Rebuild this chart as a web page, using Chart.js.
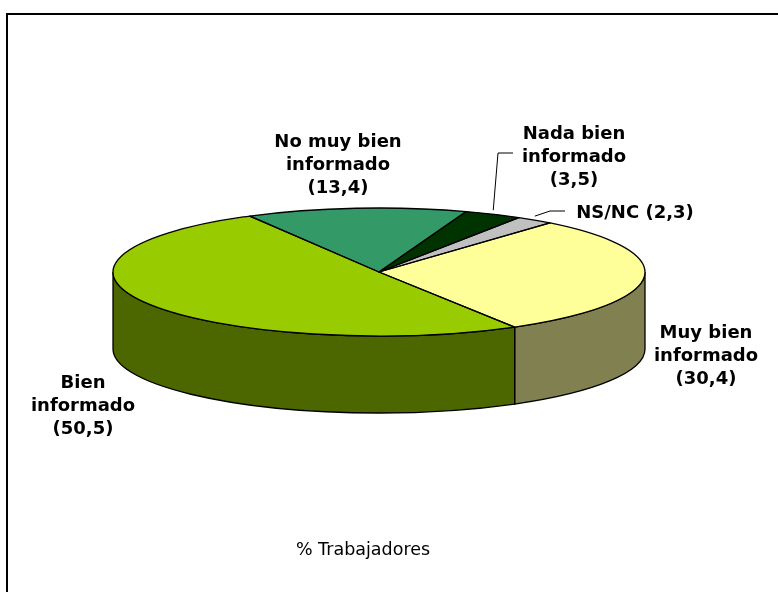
<!DOCTYPE html>
<html>
<head>
<meta charset="utf-8">
<script src="https://cdn.jsdelivr.net/npm/chart.js@4"></script>
<style>
  html, body { margin: 0; padding: 0; background: #fff; overflow: hidden; }
  #wrap { position: relative; width: 778px; height: 592px; }
  #frame { position: absolute; left: 6px; top: 13px; width: 800px; height: 620px; border: 2px solid #000; box-sizing: border-box; }
  #c { position: absolute; left: 0; top: 0; }
</style>
</head>
<body>
<div id="wrap">
  <div id="frame"></div>
  <canvas id="c" width="778" height="592"></canvas>
</div>
<script>
// --- données ---
const categories = ['Muy bien informado', 'Bien informado', 'No muy bien informado', 'Nada bien informado', 'NS/NC'];
const values = [30.4, 50.5, 13.4, 3.5, 2.3];
const axisTitle = '% Trabajadores';

// --- styles ---
const topColors = ['#FFFF99', '#99CC00', '#339966', '#003300', '#C0C0C0'];
const sideColors = ['#808050', '#4C6600', '#1A4D33', '#001A00', '#606060'];
const TILT = 64 / 266;   // ratio hauteur / largeur de l'ellipse
const DEPTH = 77 / 266;  // épaisseur du camembert
const LABEL_FONT = 'bold 18px "DejaVu Sans", Verdana, sans-serif';

// position des étiquettes (centre du texte, 1re ligne) par rapport au centre du camembert
const labelPlacement = [
    { dx: 327, dy: 61 },
    { dx: -296, dy: 111 },
    { dx: -41, dy: -130 },
    { dx: 195, dy: -138 },
    { dx: 256, dy: -59 }
];

function labelLines(i) {
    const v = '(' + values[i].toFixed(1).replace('.', ',') + ')';
    const name = categories[i];
    if (name.indexOf(' informado') < 0) return [name + ' ' + v];
    return [name.replace(' informado', ''), 'informado', v];
}

const pie3d = {
    id: 'pie3d',
    beforeDatasetsDraw(chart) {
        const ctx = chart.ctx;
        const arcs = chart.getDatasetMeta(0).data;
        const cx = arcs[0].x, cy = arcs[0].y, rx = arcs[0].outerRadius;
        const ry = rx * TILT, d = rx * DEPTH;

        // parois avant
        ctx.save();
        ctx.lineWidth = 1.3;
        ctx.strokeStyle = '#000';
        arcs.forEach((arc, i) => {
            const s = arc.startAngle, e = arc.endAngle;
            [-2 * Math.PI, 0, 2 * Math.PI].forEach(k => {
                const lo = Math.max(s, k), hi = Math.min(e, k + Math.PI);
                if (hi <= lo) return;
                ctx.beginPath();
                ctx.ellipse(cx, cy, rx, ry, 0, lo, hi, false);
                ctx.lineTo(cx + rx * Math.cos(hi), cy + ry * Math.sin(hi) + d);
                ctx.ellipse(cx, cy + d, rx, ry, 0, hi, lo, true);
                ctx.closePath();
                ctx.fillStyle = sideColors[i];
                ctx.fill();
                ctx.stroke();
            });
        });
        ctx.restore();

        // face supérieure écrasée en ellipse
        ctx.save();
        ctx.translate(cx, cy);
        ctx.scale(1, TILT);
        ctx.translate(-cx, -cy);
    },
    afterDatasetsDraw(chart) {
        const ctx = chart.ctx;
        ctx.restore();
        const arcs = chart.getDatasetMeta(0).data;
        const cx = arcs[0].x, cy = arcs[0].y, rx = arcs[0].outerRadius;
        const ry = rx * TILT;

        ctx.save();
        ctx.lineWidth = 1.3;
        ctx.strokeStyle = '#000';
        ctx.lineJoin = 'round';
        arcs.forEach(arc => {
            ctx.beginPath();
            ctx.moveTo(cx, cy);
            ctx.ellipse(cx, cy, rx, ry, 0, arc.startAngle, arc.endAngle, false);
            ctx.closePath();
            ctx.stroke();
        });

        // lignes de rappel (petites parts)
        ctx.lineWidth = 1;
        [3, 4].forEach(i => {
            const arc = arcs[i];
            const m = (arc.startAngle + arc.endAngle) / 2;
            const x0 = cx + rx * Math.cos(m), y0 = cy + ry * Math.sin(m) - 4;
            const p = labelPlacement[i];
            ctx.beginPath();
            ctx.moveTo(x0, y0);
            if (i === 3) {
                ctx.lineTo(cx + p.dx - 76, cy + p.dy + 19);
                ctx.lineTo(cx + p.dx - 61, cy + p.dy + 19);
            } else {
                ctx.lineTo(cx + p.dx - 85, cy + p.dy - 2);
                ctx.lineTo(cx + p.dx - 70, cy + p.dy - 2);
            }
            ctx.stroke();
        });

        // étiquettes
        ctx.fillStyle = '#000';
        ctx.font = LABEL_FONT;
        ctx.textAlign = 'center';
        ctx.textBaseline = 'middle';
        categories.forEach((c, i) => {
            const p = labelPlacement[i];
            labelLines(i).forEach((line, j) => {
                ctx.fillText(line, cx + p.dx, cy + p.dy + j * 23);
            });
        });

        ctx.font = '17.5px "DejaVu Sans", Tahoma, sans-serif';
        ctx.fillText(axisTitle, 363, 550);
        ctx.restore();
    }
};

new Chart(document.getElementById('c'), {
    type: 'pie',
    data: {
        labels: categories,
        datasets: [{
            data: values,
            backgroundColor: topColors,
            borderWidth: 0
        }]
    },
    options: {
        responsive: false,
        animation: false,
        rotation: 40,
        layout: { padding: { left: 113, right: 133, top: 6, bottom: 54 } },
        plugins: {
            legend: { display: false },
            tooltip: { enabled: false }
        }
    },
    plugins: [pie3d]
});
</script>
</body>
</html>
